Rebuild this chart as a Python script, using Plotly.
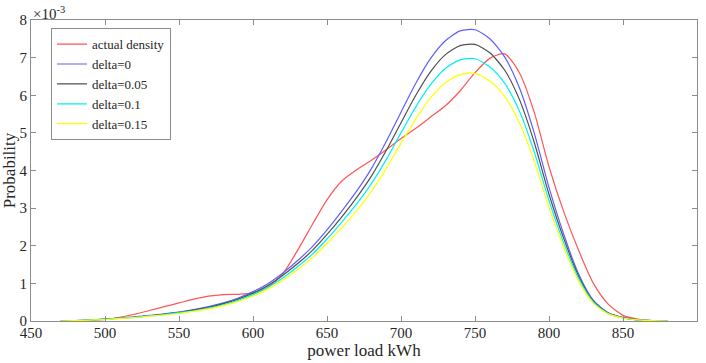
import plotly.graph_objects as go

load_kwh = [470, 480, 490, 500, 510, 520, 530, 540, 550, 560, 570, 580, 590, 600,
            610, 620, 630, 640, 650, 660, 670, 680, 690, 700, 710, 720, 730, 740,
            750, 760, 770, 780, 790, 800, 810, 820, 830, 840, 850, 860, 870, 880]

actual_density = [0, 0.005, 0.01, 0.04, 0.1, 0.18, 0.28, 0.38, 0.48, 0.58, 0.66, 0.7, 0.71, 0.74,
                  0.9, 1.25, 1.87, 2.56, 3.22, 3.72, 4.02, 4.27, 4.55, 4.85, 5.12, 5.42, 5.72, 6.12,
                  6.6, 6.98, 7.1, 6.6, 5.55, 4.1, 2.9, 1.88, 1.0, 0.45, 0.15, 0.05, 0.01, 0]

delta_0 = [0, 0.01, 0.03, 0.05, 0.08, 0.11, 0.15, 0.19, 0.24, 0.3, 0.38, 0.48, 0.61, 0.78,
           0.99, 1.27, 1.6, 1.97, 2.42, 2.92, 3.45, 4.05, 4.77, 5.55, 6.32, 6.98, 7.45, 7.71,
           7.74, 7.5, 7.02, 6.2, 5.0, 3.55, 2.3, 1.25, 0.55, 0.22, 0.09, 0.03, 0.01, 0]

delta_005 = [0, 0.01, 0.03, 0.05, 0.08, 0.1, 0.14, 0.18, 0.23, 0.29, 0.36, 0.46, 0.58, 0.74,
             0.94, 1.21, 1.52, 1.87, 2.3, 2.77, 3.28, 3.85, 4.53, 5.27, 6.0, 6.63, 7.08, 7.32,
             7.35, 7.13, 6.67, 5.89, 4.75, 3.37, 2.19, 1.19, 0.52, 0.21, 0.09, 0.03, 0.01, 0]

delta_01 = [0, 0.01, 0.03, 0.045, 0.07, 0.1, 0.135, 0.17, 0.22, 0.27, 0.34, 0.43, 0.55, 0.7,
            0.89, 1.14, 1.44, 1.77, 2.18, 2.63, 3.11, 3.65, 4.29, 5.0, 5.69, 6.28, 6.71, 6.94,
            6.97, 6.75, 6.32, 5.58, 4.5, 3.2, 2.07, 1.13, 0.5, 0.2, 0.08, 0.03, 0.01, 0]

delta_015 = [0, 0.01, 0.025, 0.04, 0.07, 0.09, 0.13, 0.16, 0.2, 0.26, 0.32, 0.41, 0.52, 0.66,
             0.84, 1.08, 1.36, 1.67, 2.06, 2.48, 2.93, 3.44, 4.05, 4.72, 5.37, 5.93, 6.33, 6.55,
             6.58, 6.38, 5.97, 5.27, 4.25, 3.02, 1.96, 1.06, 0.47, 0.19, 0.08, 0.03, 0.01, 0]

series = [
    ("actual density", actual_density, "rgb(255,85,85)"),
    ("delta=0", delta_0, "rgb(95,95,255)"),
    ("delta=0.05", delta_005, "rgb(80,80,80)"),
    ("delta=0.1", delta_01, "rgb(0,240,240)"),
    ("delta=0.15", delta_015, "rgb(255,255,0)"),
]

x_ticks = [450, 500, 550, 600, 650, 700, 750, 800, 850, 900]
y_ticks = [0, 1, 2, 3, 4, 5, 6, 7, 8]

FONT = "Liberation Serif"

fig = go.Figure()
for name, vals, color in series:
    fig.add_trace(go.Scatter(
        x=load_kwh, y=vals, name=name, mode="lines",
        line=dict(color=color, width=1.2, shape="spline", smoothing=0.7),
    ))

axis_common = dict(
    showgrid=False, zeroline=False, showline=True, linecolor="#8c8c8c", linewidth=1,
    mirror="ticks", ticks="inside", ticklen=5, tickcolor="#8c8c8c", tickwidth=1,
    tickfont=dict(family=FONT, size=15, color="#262626"), automargin=False,
)

fig.update_layout(
    width=706, height=363,
    margin=dict(l=31, r=9, t=20, b=42),
    paper_bgcolor="white", plot_bgcolor="white",
    font=dict(family=FONT, color="#262626"),
    xaxis=dict(range=[450, 900], tickvals=x_ticks, ticktext=[str(v) for v in x_ticks],
               ticklabelstandoff=-2,
               title=dict(text="power load kWh", font=dict(family=FONT, size=17), standoff=0),
               **axis_common),
    yaxis=dict(range=[0, 8], tickvals=y_ticks, ticktext=[str(v) for v in y_ticks],
               title=dict(text="Probability", font=dict(family=FONT, size=17), standoff=2),
               **axis_common),
    legend=dict(x=0.03, y=0.973, xanchor="left", yanchor="top",
                bgcolor="white", bordercolor="#8c8c8c", borderwidth=1,
                font=dict(family=FONT, size=13, color="#262626"),
                tracegroupgap=0, itemwidth=30),
    showlegend=True,
    annotations=[dict(
        text="\u00d710<sup>-3</sup>", xref="paper", yref="paper", x=0.0, y=1.0,
        xanchor="left", yanchor="bottom", showarrow=False,
        font=dict(family=FONT, size=15, color="#262626"), yshift=-4, xshift=0,
    )],
)

fig.write_html("out.html", config={"displayModeBar": False},
               post_script="document.body.style.margin='0px';document.body.style.overflow='hidden';")
